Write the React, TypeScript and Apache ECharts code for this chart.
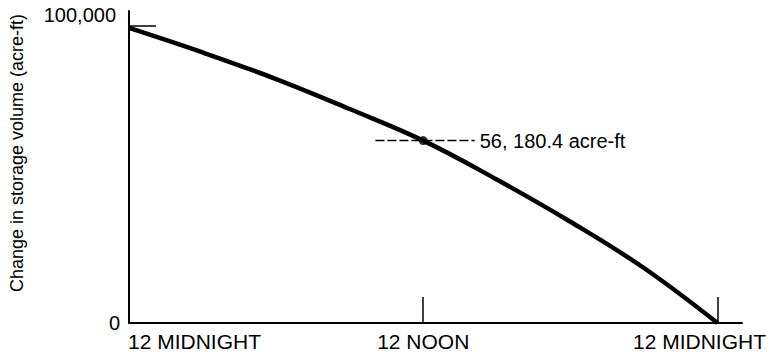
import React, { useEffect, useRef } from "react";
import * as echarts from "echarts";

// Hours after midnight and change in storage volume (acre-ft)
const hours = [0, 3, 6, 9, 12, 15, 18, 21, 24];
const storage = [99300, 91060, 82100, 72010, 61380, 48290, 34090, 18510, 0];

const xTickValues = [12, 24];
const xLabelValues = [0, 12, 24];
const xLabelTexts = ["12 MIDNIGHT", "12 NOON", "12 MIDNIGHT"];
const yLabelValues = [0, 100000];
const yTickValues = [100000];

const noteHour = 12;
const noteValue = 61380;
const noteText = "56, 180.4 acre-ft";
const noteLineFrom = 10.05;
const noteLineTo = 14.1;

const FONT = "'Liberation Sans', Arial, Helvetica, sans-serif";

export default function App() {
  const ref = useRef<HTMLDivElement>(null);
  useEffect(() => {
    if (!ref.current) return;
    const chart = echarts.init(ref.current, null, { renderer: "svg" });
    chart.setOption({
      animation: false,
      grid: { left: 126, right: 34, top: 11, bottom: 33, containLabel: false },
      xAxis: {
        type: "value",
        min: 0,
        max: 25,
        splitLine: { show: false },
        axisLine: { show: true, lineStyle: { color: "#000", width: 2 } },
        axisTick: {
          show: true,
          inside: true,
          length: 26,
          customValues: xTickValues,
          lineStyle: { color: "#000", width: 1.5 },
        },
        axisLabel: {
          show: true,
          customValues: xLabelValues,
          margin: 8,
          color: "#000",
          fontFamily: FONT,
          fontSize: 21,
          formatter: (v: number) => {
            const i = xLabelValues.indexOf(v);
            const key = i === 0 ? "l" : i === xLabelValues.length - 1 ? "r" : "c";
            return `{${key}|${xLabelTexts[i]}}`;
          },
          rich: {
            l: { fontFamily: FONT, fontSize: 21, color: "#000", padding: [0, 0, 0, 131] },
            c: { fontFamily: FONT, fontSize: 21, color: "#000" },
            r: { fontFamily: FONT, fontSize: 21, color: "#000", padding: [0, 36, 0, 0] },
          },
        },
      },
      yAxis: {
        type: "value",
        min: 0,
        max: 105000,
        splitLine: { show: false },
        name: "Change in storage volume (acre-ft)",
        nameLocation: "middle",
        nameGap: 103,
        nameTextStyle: {
          fontFamily: FONT,
          fontSize: 18,
          color: "#000",
          padding: [0, 0, 0, 28],
        },
        axisLine: { show: true, lineStyle: { color: "#000", width: 2 } },
        axisTick: {
          show: true,
          inside: true,
          length: 27,
          customValues: yTickValues,
          lineStyle: { color: "#000", width: 1.5 },
        },
        axisLabel: {
          show: true,
          customValues: yLabelValues,
          margin: 9,
          color: "#000",
          fontFamily: FONT,
          fontSize: 20,
          formatter: (v: number) =>
            v === 0 ? "{z|0}" : `{t|${v.toLocaleString("en-US")}}`,
          rich: {
            z: { fontFamily: FONT, fontSize: 20, color: "#000" },
            t: { fontFamily: FONT, fontSize: 20, color: "#000", padding: [0, 4, 22, 0] },
          },
        },
      },
      series: [
        {
          type: "line",
          data: hours.map((h, i) => [h, storage[i]]),
          smooth: 0.4,
          showSymbol: false,
          symbol: "none",
          lineStyle: { color: "#000", width: 4.5 },
          z: 3,
        },
        {
          type: "line",
          data: [
            [noteLineFrom, noteValue],
            [noteLineTo, noteValue],
          ],
          showSymbol: false,
          symbol: "none",
          lineStyle: { color: "#000", width: 1.5, type: [9, 3] },
          endLabel: {
            show: true,
            formatter: noteText,
            distance: 5,
            color: "#000",
            fontFamily: FONT,
            fontSize: 20,
          },
          z: 2,
        },
        {
          type: "scatter",
          data: [[noteHour, noteValue]],
          symbolSize: 9,
          itemStyle: { color: "#000" },
          z: 4,
        },
      ],
    });
    return () => chart.dispose();
  }, []);
  return <div ref={ref} style={{ width: 776, height: 356, position: "absolute", left: 0, top: 0 }} />;
}
